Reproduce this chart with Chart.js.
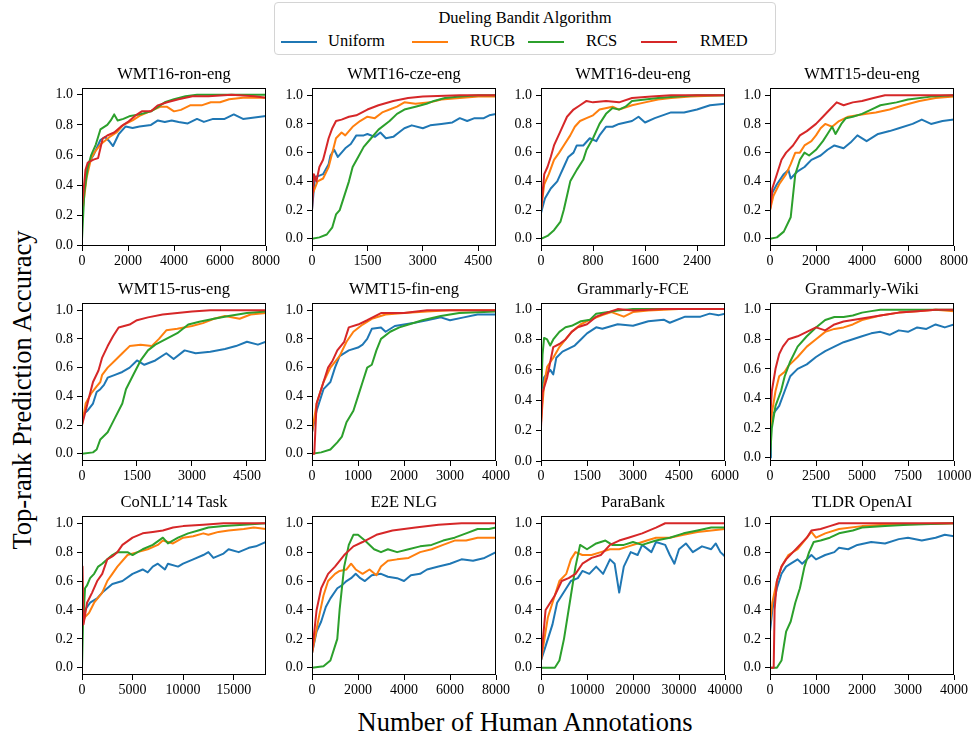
<!DOCTYPE html>
<html>
<head>
<meta charset="utf-8">
<script src="https://cdn.jsdelivr.net/npm/chart.js@4.4.0/dist/chart.umd.min.js"></script>
<style>
  body { margin: 0; background: #fff; font-family: "Liberation Serif", serif; color: #000; }
  #page { position: relative; width: 971px; height: 738px; overflow: hidden; background: #fff; }
  .panel { position: absolute; }
  .axlabel { position: absolute; font-size: 26.5px; white-space: nowrap; transform: translate(-50%, -50%); }
  #legend { position: absolute; left: 274px; top: 2px; width: 502px; height: 53px; box-sizing: border-box;
            border: 1px solid #d4d4d4; border-radius: 4px; background: #fff; font-size: 16.5px; }
  #legend .ttl { position: absolute; left: 0; right: 0; top: 5px; text-align: center; }
  #legend .ln { position: absolute; height: 2px; top: 38px; }
  #legend .tx { position: absolute; top: 28px; }
</style>
</head>
<body>
<div id="page">
  <div id="legend">
    <div class="ttl">Dueling Bandit Algorithm</div>
  </div>
  <div class="axlabel" style="left:22px; top:390px; transform: translate(-50%,-50%) rotate(-90deg);">Top-rank Prediction Accuracy</div>
  <div class="axlabel" style="left:525px; top:722px;">Number of Human Annotations</div>
</div>
<script>
// ---- data ----
const seriesNames = ['Uniform', 'RUCB', 'RCS', 'RMED'];
const panelTitles = ['WMT16-ron-eng', 'WMT16-cze-eng', 'WMT16-deu-eng', 'WMT15-deu-eng',
                     'WMT15-rus-eng', 'WMT15-fin-eng', 'Grammarly-FCE', 'Grammarly-Wiki',
                     'CoNLL\u201914 Task', 'E2E NLG', 'ParaBank', 'TLDR OpenAI'];
const xMax = [8000, 4980, 2830, 8000, 5020, 4000, 6000, 10000, 18200, 8000, 40000, 4000];
const xTicks = [
  [0, 2000, 4000, 6000, 8000], [0, 1500, 3000, 4500], [0, 800, 1600, 2400], [0, 2000, 4000, 6000, 8000],
  [0, 1500, 3000, 4500], [0, 1000, 2000, 3000, 4000], [0, 1500, 3000, 4500, 6000], [0, 2500, 5000, 7500, 10000],
  [0, 5000, 10000, 15000], [0, 2000, 4000, 6000, 8000], [0, 10000, 20000, 30000, 40000], [0, 1000, 2000, 3000, 4000]
];
const yTicks = [0, 0.2, 0.4, 0.6, 0.8, 1.0];
const yLimits = [[-0.003, 1.045], [-0.05, 1.05], [-0.05, 1.05], [-0.05, 1.05],
                 [-0.05, 1.05], [-0.05, 1.05], [0, 1.04], [-0.023, 1.045],
                 [-0.05, 1.05], [-0.05, 1.05], [-0.05, 1.05], [-0.05, 1.05]];

// WMT16-ron-eng
const ronUniform = [[0,0.22],[150,0.45],[300,0.55],[500,0.6],[800,0.7],[1000,0.72],[1200,0.69],[1350,0.66],[1600,0.74],[1900,0.79],[2200,0.78],[2500,0.79],[3000,0.8],[3300,0.83],[3600,0.82],[3900,0.83],[4200,0.82],[4600,0.81],[5000,0.84],[5300,0.82],[5700,0.84],[6200,0.84],[6600,0.87],[7000,0.84],[7500,0.85],[8000,0.86]];
const ronRUCB = [[0,0.2],[200,0.45],[400,0.58],[600,0.63],[800,0.67],[1200,0.72],[1500,0.75],[1800,0.8],[2200,0.83],[2500,0.86],[2800,0.88],[3100,0.9],[3400,0.92],[3700,0.92],[4000,0.89],[4300,0.9],[4700,0.93],[5200,0.93],[5600,0.95],[6000,0.95],[6400,0.97],[7000,0.98],[7500,0.98],[8000,0.98]];
const ronRCS = [[0,0.04],[100,0.35],[250,0.52],[400,0.6],[600,0.67],[800,0.77],[1100,0.8],[1250,0.83],[1400,0.87],[1550,0.83],[1800,0.84],[2100,0.86],[2500,0.87],[3000,0.89],[3300,0.92],[3600,0.95],[4000,0.97],[4500,0.99],[5000,1.0],[8000,1.0]];
const ronRMED = [[0,0.25],[150,0.5],[250,0.55],[500,0.57],[700,0.58],[900,0.71],[1100,0.73],[1400,0.75],[1700,0.79],[2000,0.82],[2300,0.86],[2600,0.89],[3000,0.89],[3300,0.93],[3700,0.95],[4200,0.97],[4800,0.99],[5500,0.99],[6500,1.0],[7500,0.99],[8000,0.98]];

// WMT16-cze-eng
const czeUniform = [[0,0.2],[80,0.43],[200,0.44],[300,0.45],[450,0.52],[500,0.58],[600,0.62],[700,0.57],[900,0.63],[1050,0.66],[1200,0.72],[1400,0.72],[1500,0.73],[1700,0.71],[1850,0.74],[2000,0.7],[2200,0.71],[2350,0.74],[2500,0.77],[2700,0.79],[3000,0.77],[3200,0.79],[3500,0.8],[3800,0.81],[4000,0.84],[4200,0.82],[4400,0.84],[4650,0.84],[4800,0.86],[4980,0.87]];
const czeRUCB = [[0,0.3],[150,0.4],[300,0.42],[450,0.5],[550,0.6],[650,0.7],[800,0.74],[900,0.72],[1100,0.78],[1300,0.82],[1500,0.85],[1700,0.84],[1900,0.88],[2100,0.9],[2300,0.92],[2500,0.95],[2800,0.94],[3200,0.95],[3500,0.97],[4000,0.98],[4500,0.99],[4980,0.99]];
const czeRCS = [[0,0],[200,0.01],[400,0.03],[550,0.08],[650,0.17],[750,0.2],[850,0.28],[1000,0.4],[1100,0.5],[1250,0.57],[1400,0.64],[1600,0.7],[1800,0.76],[2100,0.82],[2300,0.87],[2500,0.9],[2800,0.92],[3100,0.94],[3300,0.96],[3600,0.98],[4000,0.99],[4500,1.0],[4980,1.0]];
const czeRMED = [[0,0.2],[50,0.45],[120,0.4],[200,0.5],[300,0.55],[350,0.6],[450,0.7],[550,0.77],[650,0.82],[800,0.83],[1000,0.85],[1200,0.86],[1500,0.9],[1800,0.93],[2200,0.96],[2600,0.98],[3000,0.99],[4000,1.0],[4980,1.0]];

// WMT16-deu-eng
const deu16Uniform = [[0,0.18],[60,0.28],[150,0.35],[250,0.4],[300,0.45],[350,0.5],[420,0.57],[500,0.6],[550,0.65],[650,0.65],[750,0.7],[850,0.68],[900,0.72],[1000,0.78],[1100,0.78],[1200,0.8],[1300,0.81],[1400,0.82],[1500,0.85],[1600,0.81],[1750,0.84],[2000,0.88],[2200,0.88],[2400,0.9],[2600,0.93],[2830,0.94]];
const deu16RUCB = [[0,0.2],[50,0.38],[120,0.45],[200,0.55],[280,0.6],[350,0.65],[450,0.72],[520,0.78],[600,0.82],[700,0.84],[800,0.86],[900,0.9],[1100,0.92],[1200,0.9],[1400,0.93],[1600,0.95],[1800,0.97],[2000,0.98],[2300,0.99],[2830,1.0]];
const deu16RCS = [[0,0],[100,0.02],[200,0.06],[300,0.12],[350,0.2],[400,0.3],[450,0.4],[550,0.48],[650,0.55],[700,0.62],[800,0.7],[900,0.8],[1000,0.87],[1100,0.91],[1200,0.9],[1300,0.92],[1400,0.96],[1600,0.97],[1800,0.98],[2100,0.99],[2400,1.0],[2830,1.0]];
const deu16RMED = [[0,0.2],[50,0.45],[100,0.5],[150,0.57],[200,0.65],[300,0.75],[400,0.85],[500,0.9],[600,0.93],[700,0.96],[800,0.95],[1000,0.96],[1200,0.95],[1400,0.98],[1700,0.99],[2000,1.0],[2830,1.0]];

// WMT15-deu-eng
const deu15Uniform = [[0,0.2],[100,0.32],[300,0.38],[600,0.45],[800,0.48],[900,0.42],[1200,0.47],[1500,0.5],[1800,0.55],[2200,0.58],[2500,0.62],[2800,0.65],[3200,0.63],[3500,0.67],[3800,0.72],[4200,0.68],[4700,0.73],[5200,0.75],[5600,0.77],[6200,0.8],[6600,0.83],[7000,0.8],[7500,0.82],[8000,0.83]];
const deu15RUCB = [[0,0.2],[150,0.3],[400,0.38],[700,0.45],[900,0.52],[1100,0.6],[1300,0.6],[1500,0.65],[1800,0.68],[2000,0.72],[2200,0.77],[2400,0.8],[2700,0.78],[3000,0.82],[3400,0.85],[3800,0.86],[4200,0.87],[4600,0.88],[5200,0.9],[5800,0.93],[6500,0.96],[7200,0.98],[8000,0.99]];
const deu15RCS = [[0,0],[300,0.01],[600,0.05],[900,0.15],[1000,0.3],[1100,0.45],[1300,0.55],[1500,0.6],[1700,0.58],[2000,0.62],[2300,0.68],[2500,0.73],[2700,0.78],[2850,0.73],[3100,0.8],[3300,0.84],[3600,0.85],[4000,0.87],[4400,0.9],[4800,0.93],[5500,0.95],[6000,0.97],[7000,0.99],[8000,1.0]];
const deu15RMED = [[0,0.2],[100,0.35],[300,0.45],[500,0.55],[700,0.6],[1000,0.65],[1300,0.72],[1600,0.75],[2000,0.8],[2300,0.85],[2600,0.9],[2900,0.95],[3200,0.93],[3600,0.95],[4000,0.96],[4500,0.98],[5000,1.0],[8000,1.0]];

// WMT15-rus-eng
const rusUniform = [[0,0.25],[50,0.28],[150,0.3],[300,0.35],[400,0.43],[500,0.45],[600,0.48],[700,0.53],[900,0.55],[1100,0.57],[1300,0.6],[1500,0.65],[1700,0.62],[2000,0.65],[2300,0.7],[2500,0.66],[2800,0.72],[3100,0.7],[3500,0.71],[3900,0.73],[4200,0.75],[4500,0.78],[4800,0.76],[5020,0.78]];
const rusRUCB = [[0,0.2],[100,0.35],[250,0.42],[400,0.47],[500,0.5],[550,0.55],[700,0.6],[900,0.65],[1100,0.7],[1300,0.75],[1600,0.76],[1900,0.75],[2100,0.8],[2300,0.86],[2600,0.87],[3000,0.89],[3300,0.91],[3600,0.94],[3900,0.96],[4300,0.94],[4600,0.97],[5020,0.98]];
const rusRCS = [[0,0],[300,0.01],[400,0.03],[500,0.1],[700,0.15],[800,0.2],[900,0.25],[1100,0.35],[1200,0.45],[1400,0.55],[1600,0.65],[1800,0.72],[2000,0.76],[2300,0.8],[2600,0.84],[2900,0.9],[3200,0.92],[3600,0.94],[4000,0.96],[4500,0.98],[5020,0.99]];
const rusRMED = [[0,0.2],[100,0.3],[200,0.4],[300,0.5],[450,0.58],[550,0.67],[700,0.75],[850,0.82],[1000,0.88],[1300,0.9],[1500,0.93],[1800,0.95],[2200,0.97],[2600,0.98],[3000,0.99],[3500,1.0],[5020,1.0]];

// WMT15-fin-eng
const finUniform = [[0,0.15],[100,0.3],[250,0.45],[400,0.5],[500,0.6],[600,0.68],[800,0.72],[1000,0.74],[1100,0.76],[1200,0.8],[1300,0.87],[1500,0.88],[1600,0.85],[1800,0.89],[2000,0.9],[2200,0.91],[2500,0.93],[2800,0.95],[3000,0.93],[3300,0.95],[3600,0.97],[4000,0.97]];
const finRUCB = [[0,0.15],[100,0.35],[250,0.5],[400,0.6],[600,0.68],[750,0.78],[900,0.85],[1100,0.9],[1300,0.94],[1600,0.97],[2000,0.98],[2500,0.99],[3000,1.0],[4000,1.0]];
const finRCS = [[0,0],[200,0.01],[400,0.03],[550,0.08],[650,0.12],[750,0.22],[900,0.3],[1000,0.4],[1100,0.5],[1200,0.6],[1300,0.62],[1400,0.72],[1500,0.8],[1700,0.85],[1900,0.88],[2100,0.9],[2400,0.93],[2800,0.96],[3200,0.98],[4000,0.99]];
const finRMED = [[0,0],[50,0],[100,0.35],[250,0.5],[350,0.6],[450,0.65],[550,0.72],[700,0.78],[800,0.88],[1000,0.9],[1200,0.93],[1500,0.98],[2000,0.98],[2500,1.0],[4000,1.0]];

// Grammarly-FCE
const fceUniform = [[0,0.45],[100,0.55],[300,0.6],[400,0.57],[500,0.68],[700,0.72],[900,0.74],[1100,0.76],[1300,0.8],[1500,0.84],[1800,0.88],[2000,0.87],[2500,0.9],[3000,0.89],[3500,0.92],[4000,0.93],[4200,0.91],[4700,0.95],[5200,0.95],[5500,0.97],[5800,0.96],[6000,0.97]];
const fceRUCB = [[0,0.25],[100,0.5],[200,0.62],[400,0.68],[600,0.75],[800,0.8],[1000,0.85],[1300,0.9],[1600,0.93],[2000,0.96],[2300,0.98],[2700,0.95],[3000,0.98],[3500,0.99],[4500,1.0],[6000,1.0]];
const fceRCS = [[0,0.4],[50,0.7],[100,0.81],[200,0.8],[300,0.76],[400,0.8],[600,0.85],[800,0.88],[1000,0.89],[1300,0.92],[1600,0.93],[1800,0.97],[2200,0.98],[2500,0.99],[3000,1.0],[6000,1.0]];
const fceRMED = [[0,0.22],[50,0.45],[200,0.55],[300,0.65],[400,0.75],[600,0.77],[800,0.8],[1000,0.85],[1200,0.88],[1500,0.9],[1800,0.95],[2200,0.98],[2500,1.0],[3000,0.99],[4000,1.0],[6000,1.0]];

// Grammarly-Wiki
const wikiUniform = [[0,0],[50,0.2],[200,0.3],[500,0.35],[800,0.45],[1100,0.55],[1500,0.6],[2000,0.63],[2500,0.68],[3000,0.72],[3500,0.75],[4000,0.78],[4500,0.8],[5000,0.82],[5500,0.84],[6000,0.85],[6500,0.83],[7000,0.86],[7500,0.85],[8000,0.88],[8500,0.87],[9000,0.9],[9500,0.88],[10000,0.9]];
const wikiRUCB = [[0,0.1],[100,0.3],[300,0.45],[500,0.55],[800,0.58],[1000,0.62],[1500,0.68],[2000,0.75],[2500,0.8],[3000,0.85],[3500,0.87],[4000,0.88],[4500,0.9],[5000,0.93],[6000,0.96],[7000,0.98],[8000,0.99],[9000,1.0],[10000,0.99]];
const wikiRCS = [[0,0],[100,0.2],[300,0.35],[600,0.45],[800,0.55],[1100,0.65],[1500,0.75],[2000,0.82],[2500,0.88],[3000,0.93],[3500,0.95],[4000,0.95],[4500,0.96],[5000,0.98],[5500,0.99],[6000,1.0],[10000,1.0]];
const wikiRMED = [[0,0.25],[100,0.45],[300,0.6],[500,0.7],[700,0.75],[1000,0.8],[1500,0.82],[2000,0.85],[2500,0.88],[3000,0.86],[3500,0.9],[4000,0.92],[5000,0.94],[6000,0.96],[7000,0.98],[8000,0.99],[9000,1.0],[10000,1.0]];

// CoNLL'14 Task
const conllUniform = [[0,0.3],[300,0.4],[800,0.45],[1500,0.48],[2000,0.52],[2500,0.55],[3000,0.58],[4000,0.6],[5000,0.65],[6000,0.68],[6500,0.66],[7000,0.7],[7500,0.72],[8200,0.68],[8500,0.72],[9500,0.7],[10000,0.72],[11000,0.75],[12000,0.78],[12500,0.8],[13000,0.76],[14000,0.79],[14500,0.82],[15500,0.8],[16500,0.83],[17200,0.84],[18200,0.87]];
const conllRUCB = [[0,0.3],[300,0.35],[700,0.38],[1200,0.45],[2000,0.52],[2500,0.6],[3000,0.65],[3500,0.7],[4500,0.78],[5500,0.8],[6500,0.82],[7500,0.85],[8000,0.88],[9000,0.86],[10000,0.9],[11000,0.91],[12000,0.93],[12500,0.92],[13500,0.94],[14500,0.95],[16000,0.96],[17000,0.97],[18200,0.96]];
const conllRCS = [[0,0],[100,0.3],[300,0.55],[500,0.57],[800,0.62],[1200,0.65],[1600,0.7],[2000,0.72],[2500,0.75],[3000,0.78],[3500,0.8],[4500,0.8],[5000,0.78],[6000,0.82],[7000,0.85],[8000,0.9],[8500,0.86],[9500,0.9],[10500,0.93],[11500,0.95],[12500,0.97],[14000,0.98],[16000,0.99],[18200,1.0]];
const conllRMED = [[0,0.3],[50,0.7],[150,0.3],[500,0.45],[1000,0.52],[1500,0.6],[2000,0.65],[2500,0.75],[3000,0.77],[3500,0.8],[4000,0.85],[5000,0.9],[6000,0.93],[7000,0.94],[8000,0.95],[9000,0.97],[10000,0.98],[12000,0.99],[14000,1.0],[18200,1.0]];

// E2E NLG
const e2eUniform = [[0,0.1],[200,0.25],[400,0.32],[600,0.42],[800,0.48],[1100,0.55],[1300,0.57],[1500,0.6],[1700,0.62],[1900,0.65],[2100,0.62],[2300,0.6],[2600,0.64],[3000,0.65],[3300,0.63],[3700,0.62],[4000,0.6],[4300,0.64],[4700,0.65],[5000,0.68],[5500,0.7],[6000,0.72],[6500,0.75],[7000,0.74],[7500,0.76],[8000,0.8]];
const e2eRUCB = [[0,0.1],[300,0.35],[500,0.5],[700,0.6],[1000,0.65],[1200,0.67],[1500,0.68],[1700,0.72],[1900,0.68],[2200,0.65],[2500,0.68],[2800,0.64],[3000,0.7],[3300,0.74],[3700,0.75],[4200,0.76],[4700,0.8],[5200,0.82],[5700,0.85],[6200,0.88],[6700,0.88],[7200,0.9],[7700,0.9],[8000,0.9]];
const e2eRCS = [[0,0],[500,0.01],[800,0.05],[1100,0.2],[1200,0.4],[1400,0.7],[1600,0.85],[1800,0.92],[2000,0.92],[2300,0.88],[2700,0.82],[3000,0.8],[3300,0.82],[3700,0.8],[4200,0.82],[4700,0.84],[5200,0.85],[5700,0.88],[6200,0.9],[6700,0.93],[7200,0.96],[7700,0.96],[8000,0.97]];
const e2eRMED = [[0,0.1],[200,0.4],[400,0.55],[700,0.65],[1000,0.7],[1400,0.78],[1800,0.84],[2200,0.87],[2800,0.92],[3500,0.95],[4500,0.97],[5500,0.99],[6500,1.0],[8000,1.0]];

// ParaBank
const paraUniform = [[0,0.05],[1000,0.15],[2500,0.3],[3500,0.45],[4500,0.5],[5500,0.55],[6500,0.6],[8000,0.62],[9000,0.67],[10500,0.65],[12000,0.7],[13500,0.65],[15000,0.75],[16000,0.72],[17000,0.52],[18000,0.7],[19500,0.8],[21000,0.78],[22000,0.85],[24000,0.8],[25000,0.87],[27000,0.85],[28000,0.78],[29000,0.72],[30000,0.82],[31500,0.86],[33000,0.8],[35000,0.84],[37000,0.82],[38000,0.86],[39000,0.8],[40000,0.77]];
const paraRUCB = [[0,0.05],[1500,0.35],[3000,0.5],[4000,0.6],[5500,0.65],[6500,0.75],[7500,0.8],[9000,0.78],[11000,0.78],[13000,0.8],[15000,0.82],[17000,0.82],[19000,0.84],[21000,0.86],[23000,0.88],[25000,0.9],[28000,0.9],[31000,0.92],[34000,0.94],[37000,0.95],[40000,0.96]];
const paraRCS = [[0,0],[3000,0],[4000,0.05],[5000,0.2],[6500,0.5],[7500,0.7],[8500,0.85],[10000,0.82],[12000,0.86],[14000,0.88],[15500,0.85],[18000,0.85],[20000,0.87],[22000,0.85],[25000,0.88],[28000,0.9],[31000,0.93],[34000,0.95],[37000,0.97],[40000,0.97]];
const paraRMED = [[0,0.05],[1000,0.4],[3000,0.5],[4500,0.6],[6000,0.62],[7500,0.65],[9000,0.72],[11000,0.76],[13000,0.78],[15000,0.85],[17000,0.88],[19000,0.9],[22000,0.93],[25000,0.97],[27000,1.0],[40000,1.0]];

// TLDR OpenAI
const tldrUniform = [[0,0.25],[50,0.4],[150,0.55],[250,0.65],[350,0.7],[450,0.72],[600,0.75],[700,0.72],[900,0.78],[1000,0.75],[1200,0.78],[1400,0.8],[1500,0.83],[1700,0.82],[1900,0.85],[2200,0.87],[2500,0.86],[2800,0.89],[3000,0.9],[3300,0.88],[3600,0.9],[3800,0.92],[4000,0.91]];
const tldrRUCB = [[0,0.3],[50,0.45],[150,0.6],[250,0.7],[400,0.78],[600,0.82],[750,0.88],[900,0.94],[1000,0.9],[1200,0.93],[1500,0.96],[2000,0.98],[2500,0.99],[4000,1.0]];
const tldrRCS = [[0,0],[150,0],[250,0.05],[300,0.15],[350,0.25],[450,0.32],[550,0.45],[650,0.55],[750,0.7],[850,0.8],[950,0.87],[1100,0.88],[1300,0.9],[1500,0.93],[1800,0.95],[2000,0.97],[2500,0.98],[3000,0.99],[4000,1.0]];
const tldrRMED = [[0,0],[80,0],[100,0.4],[150,0.6],[250,0.7],[350,0.75],[500,0.8],[650,0.85],[800,0.9],[900,0.95],[1100,0.96],[1300,0.98],[1500,1.0],[4000,1.0]];

const panelSeries = [
  [ronUniform, ronRUCB, ronRCS, ronRMED],
  [czeUniform, czeRUCB, czeRCS, czeRMED],
  [deu16Uniform, deu16RUCB, deu16RCS, deu16RMED],
  [deu15Uniform, deu15RUCB, deu15RCS, deu15RMED],
  [rusUniform, rusRUCB, rusRCS, rusRMED],
  [finUniform, finRUCB, finRCS, finRMED],
  [fceUniform, fceRUCB, fceRCS, fceRMED],
  [wikiUniform, wikiRUCB, wikiRCS, wikiRMED],
  [conllUniform, conllRUCB, conllRCS, conllRMED],
  [e2eUniform, e2eRUCB, e2eRCS, e2eRMED],
  [paraUniform, paraRUCB, paraRCS, paraRMED],
  [tldrUniform, tldrRUCB, tldrRCS, tldrRMED]
];

// ---- layout / style ----
const colors = ['#1f77b4', '#ff7f0e', '#2ca02c', '#d62728'];
const colLeft = [82, 312, 541, 770];
const rowTop = [88, 303, 516];
const rowH = [158, 158, 159];
const plotW = 184;
const yAxisW = 45, xAxisH = 28, titleH = 23, padRight = 22;
const serif = 'Liberation Serif';

// legend entries (html)
const legendPos = [[281, 328], [412, 470], [528, 586], [641, 700]];
const legendBox = document.getElementById('legend');
seriesNames.forEach((name, i) => {
  const ln = document.createElement('div');
  ln.className = 'ln';
  ln.style.left = (legendPos[i][0] - 275) + 'px';
  ln.style.width = '36px';
  ln.style.background = colors[i];
  legendBox.appendChild(ln);
  const tx = document.createElement('div');
  tx.className = 'tx';
  tx.style.left = (legendPos[i][1] - 275) + 'px';
  tx.innerText = name;
  legendBox.appendChild(tx);
});

Chart.defaults.font.family = serif;
Chart.defaults.font.size = 14;
Chart.defaults.color = '#000';

// box around each plot area, like matplotlib spines
const frame = {
  id: 'frame',
  afterDraw(c) {
    const a = c.chartArea, ctx = c.ctx;
    ctx.save();
    ctx.strokeStyle = '#000';
    ctx.lineWidth = 1;
    ctx.strokeRect(a.left + 0.5, a.top + 0.5, a.right - a.left - 1, a.bottom - a.top - 1);
    ctx.restore();
  }
};

function drawPanels() {
  const page = document.getElementById('page');
  panelTitles.forEach((title, p) => {
    const r = Math.floor(p / 4), c = p % 4;
    const w = yAxisW + plotW + padRight;
    const h = titleH + rowH[r] + xAxisH;
    const cv = document.createElement('canvas');
    cv.className = 'panel';
    cv.width = w; cv.height = h;
    cv.style.left = (colLeft[c] - yAxisW) + 'px';
    cv.style.top = (rowTop[r] - titleH) + 'px';
    cv.style.width = w + 'px'; cv.style.height = h + 'px';
    page.appendChild(cv);

    new Chart(cv, {
      type: 'line',
      data: {
        datasets: panelSeries[p].map((pts, i) => ({
          label: seriesNames[i],
          data: pts.map(q => ({ x: q[0], y: q[1] })),
          borderColor: colors[i],
          borderWidth: 2,
          pointRadius: 0,
          tension: 0,
          borderJoinStyle: 'round',
          order: 3 - i
        }))
      },
      options: {
        responsive: false,
        animation: false,
        devicePixelRatio: 1,
        layout: { padding: { left: 0, right: padRight, top: 0, bottom: 0 } },
        plugins: {
          legend: { display: false },
          tooltip: { enabled: false },
          title: {
            display: true, text: title, fullSize: false,
            font: { family: serif, size: 16.5, weight: 'normal', lineHeight: '20px' },
            padding: { top: 0, bottom: 3 }, color: '#000'
          }
        },
        scales: {
          x: {
            type: 'linear', min: 0, max: xMax[p],
            afterBuildTicks: s => { s.ticks = xTicks[p].map(v => ({ value: v })); },
            afterFit: s => { s.height = xAxisH; },
            ticks: { autoSkip: false, maxRotation: 0, minRotation: 0, padding: 2,
                     font: { family: serif, size: 14 }, color: '#000', callback: v => String(v) },
            grid: { drawOnChartArea: false, drawTicks: true, tickLength: 5, tickWidth: 1, tickColor: '#000' },
            border: { display: false }
          },
          y: {
            type: 'linear', min: yLimits[p][0], max: yLimits[p][1],
            afterBuildTicks: s => { s.ticks = yTicks.map(v => ({ value: v })); },
            afterFit: s => { s.width = yAxisW; },
            ticks: { autoSkip: false, padding: 4,
                     font: { family: serif, size: 14 }, color: '#000', callback: v => v.toFixed(1) },
            grid: { drawOnChartArea: false, drawTicks: true, tickLength: 5, tickWidth: 1, tickColor: '#000' },
            border: { display: false }
          }
        }
      },
      plugins: [frame]
    });
  });
}

if (document.fonts && document.fonts.load) {
  Promise.all([document.fonts.load('14px "' + serif + '"'), document.fonts.load('16.5px "' + serif + '"')])
    .then(drawPanels, drawPanels);
} else {
  drawPanels();
}
</script>
</body>
</html>
